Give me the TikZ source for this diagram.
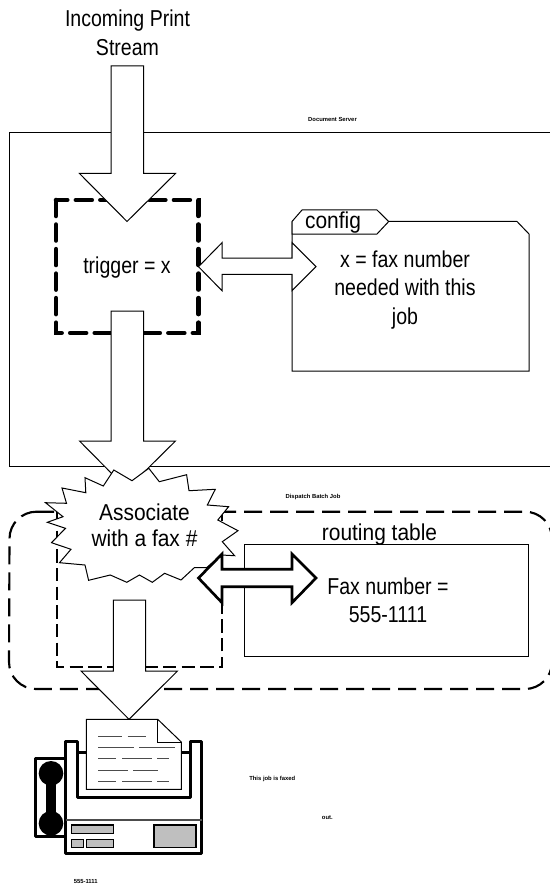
\documentclass[tikz,border=0pt]{standalone}
\usepackage{fontspec}
\setmainfont{Liberation Sans}
\newfontfamily\thinfont[FakeStretch=0.85]{Liberation Sans}
\newfontfamily\widefont[FakeStretch=0.91]{Liberation Sans}
\usetikzlibrary{positioning}
\tikzset{
    bigtext/.style={inner sep=0pt, align=center, font=\fontsize{17.25}{21.4}\selectfont\thinfont},
    widetext/.style={inner sep=0pt, align=center, font=\fontsize{17.25}{19.6}\selectfont\widefont},
    tinytext/.style={inner sep=0pt, font=\fontsize{4.4}{5}\selectfont\bfseries},
}

\begin{document}
\begin{tikzpicture}[x=0.75pt, y=-0.75pt, line join=miter,
    thinline/.style = {draw=black, line width=0.75pt},
    blockarrow/.style = {thinline, fill=white},
    faxline/.style = {draw=black, line width=2.2pt, line join=round},
    button/.style = {draw=black, line width=1pt, fill=black!25},
    textline/.style = {draw=black!70, line width=0.75pt}]
    \useasboundingbox (0,0) rectangle (549,884);

    % document server with the trigger and the config folder
    \draw [thinline] (552,132.5) -- (9.5,132.5) -- (9.5,466.7) -- (552,466.7);
    \node[tinytext] (server) at (332.5,119) {Document Server};
    \draw [draw=black, line width=3.4pt, line cap=round, dash pattern=on 12pt off 6.4pt] (56,200) rectangle (198.5,333);
    \node[bigtext] (trigger) at (127,268) {trigger = x};
    \draw [blockarrow] (111,66) -- (143.5,66) -- (143.5,173.5) -- (175.5,173.5) -- (127,221.5) -- (79.5,173.5) -- (111,173.5) -- cycle;
    \node[bigtext] (incoming) at (127.5,33) {Incoming Print\\Stream};

    \draw [thinline] (388.7,221.5) -- (517,221.5) -- (529,234) -- (529,371) -- (292,371) -- (292,221.5);
    \draw [blockarrow] (292,221.5) -- (302,210) -- (377,210) -- (388.7,221.5) -- (377,234) -- (292,234) -- cycle;
    \node[widetext] (config) at (333,223) {config};
    \node[bigtext] (needed) at (405,290) {x = fax number\\needed with this\\job};
    \draw [blockarrow] (198.5,266.7) -- (222,242.7) -- (222,258) -- (292,258) -- (292,242.7) -- (316,266.7) -- (292,290.7) -- (292,274.3) -- (222,274.3) -- (222,290.7) -- cycle;

    % dispatch batch job with the routing table
    \node[tinytext] (dispatch) at (313,497) {Dispatch Batch Job};
    \draw [draw=black, line width=1.6pt, dash pattern=on 13.5pt off 6pt] (36,511.7) -- (525,511.7) arc[start angle=-90, end angle=0, radius=27] -- (552,662) arc[start angle=0, end angle=90, radius=27] -- (36,689) arc[start angle=90, end angle=180, radius=27] -- (9.5,538.7) arc[start angle=180, end angle=270, radius=27];
    \draw [draw=black, line width=1.2pt, dash pattern=on 10pt off 4pt] (56.7,512) rectangle (222,667);
    \draw [thinline] (244.7,544.7) rectangle (528.7,656);
    \node[widetext] (routing) at (379.5,535) {routing table};
    \node[bigtext] (faxnumber) at (388,600.5) {Fax number =\\555-1111};

    \draw [blockarrow] (111,311) -- (143.5,311) -- (143.5,441) -- (175.5,441) -- (127,489) -- (79.5,441) -- (111,441) -- cycle;
    \draw [blockarrow] (113.8,470) -- (132,480.7) -- (148.8,468.3) -- (159.3,481.7) -- (186.6,474.7) -- (189,490.7) -- (215.3,489.3) -- (207.3,505) -- (228.6,506.7) -- (217.8,520) -- (238,530.7) -- (222.3,541.7) -- (234.6,555.7) -- (221.3,555) -- (206.6,567.7) -- (194.3,567.7) -- (181,580) -- (164.6,573.3) -- (152.3,582.3) -- (139.4,575) -- (126.8,582.3) -- (110.3,575) -- (88.6,580.3) -- (85,565) -- (59.5,562.7) -- (71,549.3) -- (51.5,542.7) -- (65.5,528.3) -- (47.3,522.3) -- (63,516.7) -- (45.5,502.7) -- (66.5,503.3) -- (62,488) -- (85.8,492.7) -- (85,477.7) -- (103.3,486) -- cycle;
    \node[widetext] (associate) at (144.5,525) {Associate\\with a fax \#};
    \draw [draw=black, line width=2pt, fill=white] (198.5,578) -- (222,554) -- (222,569.3) -- (292,569.3) -- (292,554) -- (316,578) -- (292,602.7) -- (292,586.7) -- (222,586.7) -- (222,602.7) -- cycle;
    \draw [blockarrow] (113.4,600) -- (145.7,600) -- (145.7,671) -- (177.5,671) -- (129,719.3) -- (81,671) -- (113.4,671) -- cycle;

    % fax machine
    \draw [faxline, fill=white] (35.7,758.3) rectangle (65.7,836.7);
    \fill (51,773.3) circle (12.3);
    \fill (51,823.3) circle (12.3);
    \fill (46,773.3) rectangle (56,823.3);
    \draw [faxline, fill=white] (65.7,741.7) -- (77.3,741.7) -- (77.3,797.3) -- (190.3,797.3) -- (190.3,741.7) -- (201.7,741.7) -- (201.7,853.3) -- (65.7,853.3) -- cycle;
    \draw [faxline] (77.3,752.7) -- (190.3,752.7);
    \draw [draw=black!70, line width=1pt] (65.7,820) -- (201.7,820);
    \draw [button] (71.7,825) rectangle (113.3,833.7);
    \draw [button] (71.7,839.3) rectangle (83.7,847.7);
    \draw [button] (86.3,839.3) rectangle (113.3,847.7);
    \draw [button] (154,825) rectangle (196,847.7);
    \draw [thinline, fill=white] (86.3,719.3) -- (157.7,719.3) -- (181.3,742) -- (181.3,789.3) -- (86.3,789.3) -- cycle;
    \draw [thinline] (157.7,719.3) -- (157.7,742) -- (181.3,742);
    \draw [textline] (98,736) -- (122.3,736) (127.7,736) -- (145.7,736);
    \draw [textline] (98,747.3) -- (134,747.3) (139.3,747.3) -- (175.3,747.3);
    \draw [textline] (98,758.7) -- (116,758.7) (122,758.7) -- (152,758.7) (157.3,758.7) -- (169.3,758.7);
    \draw [textline] (98,770) -- (128.3,770) (133.3,770) -- (158,770);
    \draw [textline] (98,781) -- (116,781) (122,781) -- (152,781) (157.3,781) -- (169.3,781);

    \node[tinytext] (faxed) at (272.3,779.3) {This job is faxed};
    \node[tinytext] (out) at (327.3,817.3) {out.};
    \node[tinytext] (number) at (85.7,881) {555-1111};
\end{tikzpicture}
\end{document}
